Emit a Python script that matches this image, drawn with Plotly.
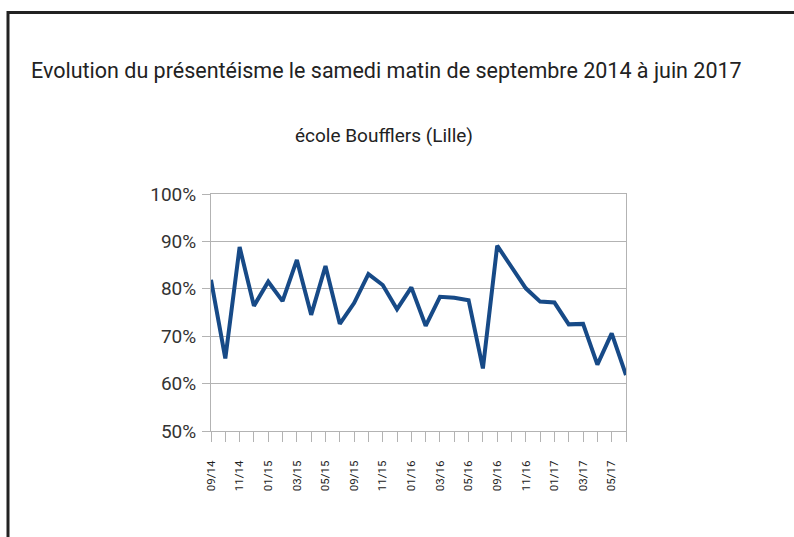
import plotly.graph_objects as go

months = ["09/14","10/14","11/14","12/14","01/15","02/15","03/15","04/15","05/15","06/15",
          "09/15","10/15","11/15","12/15","01/16","02/16","03/16","04/16","05/16","06/16",
          "09/16","10/16","11/16","12/16","01/17","02/17","03/17","04/17","05/17","06/17"]
values = [81.9, 65.3, 88.8, 76.4, 81.5, 77.4, 86.1, 74.5, 84.8, 72.6,
          77.0, 83.1, 80.8, 75.7, 80.3, 72.2, 78.3, 78.1, 77.6, 63.2,
          89.1, 84.7, 80.1, 77.3, 77.1, 72.5, 72.6, 64.0, 70.6, 61.8]
tick_labels = [m if i % 2 == 0 else "" for i, m in enumerate(months)]
y_ticks = [50, 60, 70, 80, 90, 100]
y_tick_text = ["50%", "60%", "70%", "80%", "90%", "100%"]

FONT = "Roboto, Liberation Sans, sans-serif"

W, H = 794, 537
L, R, T, B = 211, 168, 194, 106
pw, ph = W - L - R, H - T - B

def px(x):
    return (x - L) / pw

def py(y):
    return (H - B - y) / ph

fig = go.Figure()
fig.add_trace(go.Scatter(
    x=list(range(len(months))), y=values, mode="lines",
    line=dict(color="#174a87", width=4), showlegend=False,
))

fig.update_layout(
    width=W, height=H,
    margin=dict(l=L, r=R, t=T, b=B),
    paper_bgcolor="white", plot_bgcolor="white",
    font=dict(family=FONT, color="#222"),
    xaxis=dict(
        range=[0, len(months) - 1],
        tickmode="array", tickvals=list(range(len(months))), ticktext=tick_labels,
        tickangle=-90, tickfont=dict(size=11.5, color="#222"),
        ticks="outside", ticklen=10, tickcolor="#b3b3b3", tickwidth=1,
        ticklabelstandoff=14,
        showgrid=False, showline=True, linecolor="#b3b3b3", linewidth=1, mirror=True,
        zeroline=False,
    ),
    yaxis=dict(
        range=[50, 100],
        tickmode="array", tickvals=y_ticks, ticktext=y_tick_text,
        tickfont=dict(size=19, color="#333"),
        ticks="outside", ticklen=8, tickcolor="#b3b3b3", tickwidth=1,
        ticklabelstandoff=2,
        showgrid=True, gridcolor="#b3b3b3", gridwidth=1,
        showline=True, linecolor="#b3b3b3", linewidth=1, mirror=True,
        zeroline=False,
    ),
    annotations=[
        dict(text="Evolution du présentéisme le samedi matin de septembre 2014 à juin 2017",
             x=px(386), y=py(71), xref="paper", yref="paper", showarrow=False,
             xanchor="center", yanchor="middle", font=dict(size=21.5, color="#222", family=FONT)),
        dict(text="école Boufflers (Lille)",
             x=px(384), y=py(135), xref="paper", yref="paper", showarrow=False,
             xanchor="center", yanchor="middle", font=dict(size=19, color="#222", family=FONT)),
    ],
    shapes=[
        dict(type="line", xref="paper", yref="paper", x0=px(8), x1=px(800), y0=py(12.5), y1=py(12.5),
             line=dict(color="#222", width=3)),
        dict(type="line", xref="paper", yref="paper", x0=px(8), x1=px(8), y0=py(11), y1=py(545),
             line=dict(color="#222", width=3)),
    ],
)

fig.write_html("out.html", config={"displayModeBar": False},
               post_script="document.body.style.margin='0';document.body.style.overflow='hidden';")
